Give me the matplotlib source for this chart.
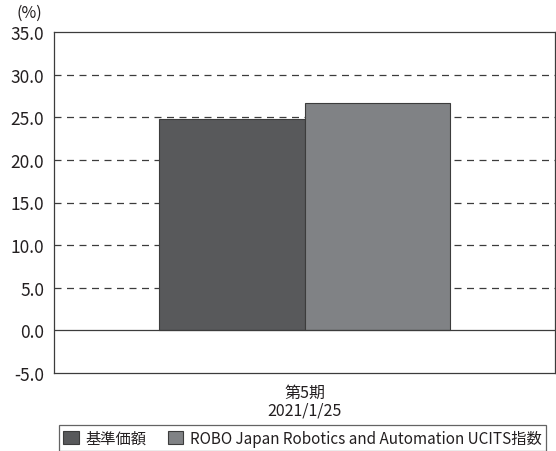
import matplotlib
matplotlib.use('Agg')
import matplotlib.pyplot as plt

plt.rcParams['font.family'] = ['Noto Sans CJK JP', 'DejaVu Sans']

series = ['基準価額', 'ROBO Japan Robotics and Automation UCITS指数']
values = [24.8, 26.7]
colors = ['#58595b', '#808285']
period_label = '第5期\n2021/1/25'
yticks = [-5, 0, 5, 10, 15, 20, 25, 30, 35]

fig = plt.figure(figsize=(5.56, 4.52), dpi=100)
ax = fig.add_axes([54 / 556, 1 - 374 / 452, 501 / 556, 341 / 452])

for y in yticks[2:-1]:
    ax.axhline(y, color='#3c3c3c', lw=0.9, ls=(0, (5.6, 4.4)), zorder=1)
ax.axhline(0, color='#3c3c3c', lw=0.9, zorder=3)

offsets = [-0.5, 0.5]
for off, v, c, name in zip(offsets, values, colors, series):
    ax.bar(off, v, width=1.0, color=c, edgecolor='#3c3c3c', lw=0.8, label=name, zorder=2)

ax.set_xlim(-1.727, 1.727)
ax.set_ylim(-5, 35)
ax.set_yticks(yticks)
ax.set_yticklabels([f'{y:.1f}' for y in yticks], fontsize=12.5, color='#231f20')
ax.set_xticks([0])
ax.set_xticklabels([period_label], fontsize=11.5, color='#231f20', linespacing=1.05)
ax.tick_params(length=0, pad=7)
ax.tick_params(axis='x', pad=8)
for s in ax.spines.values():
    s.set_color('#3c3c3c')
    s.set_linewidth(0.9)

fig.text(17 / 556, 1 - 13 / 452, '(%)', fontsize=11.5, color='#231f20', va='center', ha='left')

leg = ax.legend(loc='upper center', bbox_to_anchor=(0.496, -0.1525), ncol=2, frameon=True,
                fancybox=False, edgecolor='#3c3c3c', fontsize=11, handlelength=1.0,
                handleheight=1.0, columnspacing=1.4, handletextpad=0.45, borderpad=0.3,
                borderaxespad=0)
leg.get_frame().set_linewidth(0.9)
for t in leg.get_texts():
    t.set_color('#231f20')

fig.savefig('out.png', dpi=100)
